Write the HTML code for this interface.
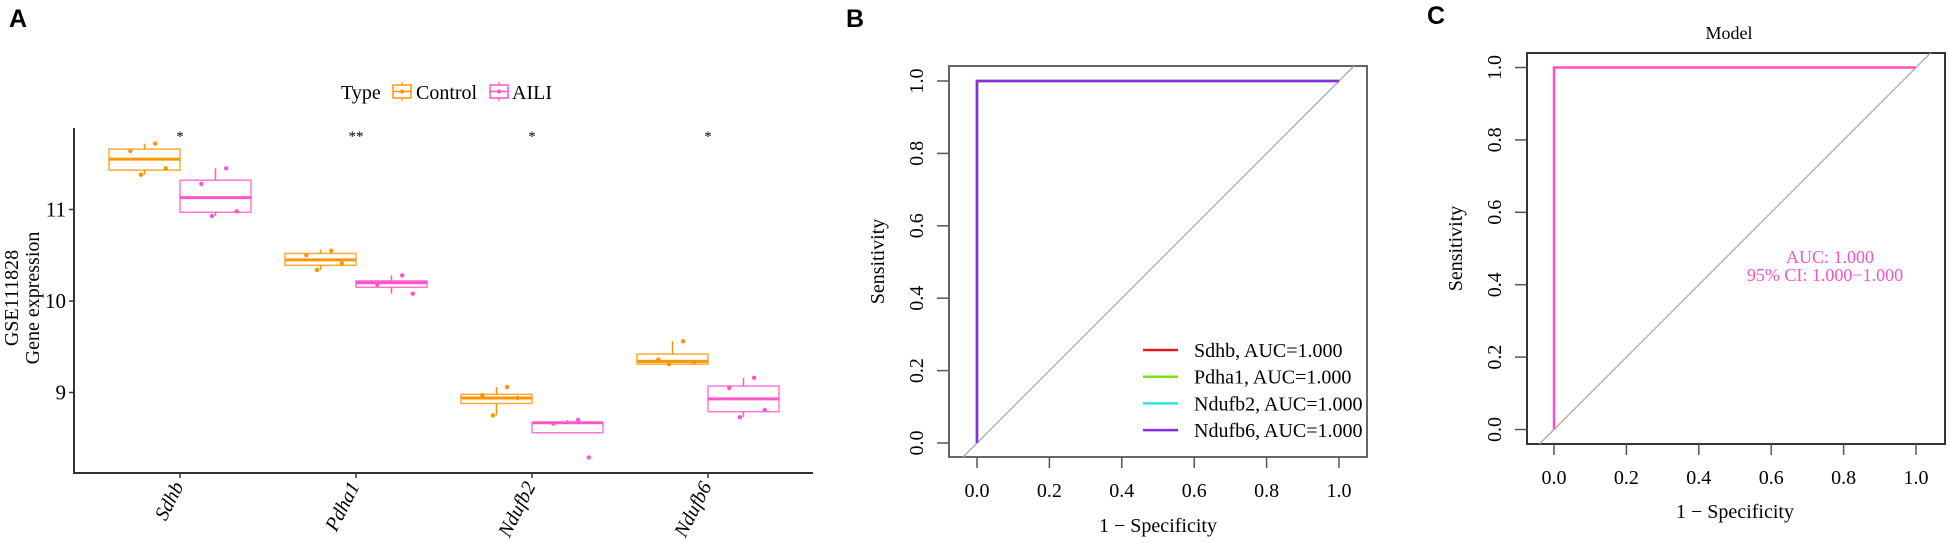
<!DOCTYPE html>
<html><head><meta charset="utf-8"><style>
html,body{margin:0;padding:0;background:#fff;width:1949px;height:543px;overflow:hidden}
svg{display:block}
text{font-family:"Liberation Serif",serif}
.pl{font-family:"Liberation Sans",sans-serif;font-weight:bold;font-size:25px}
</style></head><body>
<svg id="fig" width="1949" height="543" viewBox="0 0 1949 543" xmlns="http://www.w3.org/2000/svg">
<text class="pl" x="9" y="27">A</text>
<text class="pl" x="846" y="27">B</text>
<text class="pl" x="1427" y="24">C</text>
<g id="pa"></g>
<g id="pb"></g>
<g id="pc"></g>
</svg>
<script>
// ---------- Panel A data ----------
const genes = ["Sdhb","Pdha1","Ndufb2","Ndufb6"];
const groups = ["Control","AILI"];
const sigLabels = ["*","**","*","*"];
const yTicksA = [9,10,11];
// [whiskerLow, q1, median, q3, whiskerHigh] per gene
const controlStats = [[11.38,11.43,11.55,11.66,11.72],[10.34,10.39,10.45,10.52,10.56],[8.75,8.88,8.94,8.98,9.06],[9.31,9.31,9.34,9.42,9.56]];
const ailiStats = [[10.93,10.97,11.13,11.32,11.45],[10.08,10.15,10.20,10.22,10.28],[8.56,8.56,8.67,8.67,8.70],[8.73,8.79,8.93,9.07,9.16]];
const controlPoints = [[11.72,11.64,11.45,11.38],[10.55,10.50,10.41,10.34],[9.06,8.97,8.94,8.75],[9.56,9.36,9.33,9.31]];
const ailiPoints = [[11.45,11.28,10.98,10.93],[10.28,10.18,10.08],[8.70,8.66,8.29],[9.16,9.05,8.81,8.73]];

// ---------- Panel B data ----------
const rocGenes = ["Sdhb","Pdha1","Ndufb2","Ndufb6"];
const rocAUC = ["1.000","1.000","1.000","1.000"];
const rocFPR = [0,0,1];
const rocTPR = [0,1,1];
const rocTicks = [0,0.2,0.4,0.6,0.8,1.0];
// ---------- Panel C data ----------
const modelFPR = [0,0,1];
const modelTPR = [0,1,1];
const modelAUC = "1.000";
const modelCI = ["1.000","1.000"];

const NS="http://www.w3.org/2000/svg";
function mk(parent,tag,attrs,txt){const e=document.createElementNS(NS,tag);for(const k in attrs)e.setAttribute(k,attrs[k]);if(txt!==undefined)e.textContent=txt;parent.appendChild(e);return e;}

// ===== Panel A =====
(function(){
const g=document.getElementById('pa');
const yA=v=>301-(v-10)*91.5;
const xCat=i=>180+i*176;
const bw=71;
const cols={Control:"#FF9500",AILI:"#FF55CC"};
let e;
e=mk(g,'line',{x1:74,y1:128,x2:74,y2:474,stroke:"#333","stroke-width":2});

e=mk(g,'line',{x1:73,y1:473,x2:813,y2:473,stroke:"#333","stroke-width":2});

yTicksA.forEach(t=>{
 e=mk(g,'line',{x1:69,y1:yA(t),x2:74,y2:yA(t),stroke:"#333","stroke-width":1.5});
 
 e=mk(g,'text',{x:66,y:yA(t)+7,"text-anchor":"end","font-size":21},String(t));
 
});
e=mk(g,'text',{transform:"translate(18,298) rotate(-90)","text-anchor":"middle","font-size":20},"GSE111828");

e=mk(g,'text',{transform:"translate(39,298) rotate(-90)","text-anchor":"middle","font-size":20},"Gene expression");

const jit=[0.15,-0.2,0.3,-0.05];
genes.forEach((gn,i)=>{
 const cx=xCat(i);
 e=mk(g,'line',{x1:cx,y1:473,x2:cx,y2:478,stroke:"#333","stroke-width":1.5});
 
 e=mk(g,'text',{transform:`translate(${cx+4},${486}) rotate(-63)`,"text-anchor":"end","font-size":20,"font-style":"italic"},gn);
 
 e=mk(g,'text',{x:cx,y:141,"text-anchor":"middle","font-size":15},sigLabels[i]);
 
 [[controlStats,controlPoints,"Control",-1],[ailiStats,ailiPoints,"AILI",0]].forEach(([st,pts,grp,side])=>{
  const s=st[i];const x0=cx+side*bw;const c=cols[grp];const mid=x0+bw/2;
  const bg=mk(g,'g',{});
  
  
  mk(bg,'line',{x1:mid,y1:yA(s[4]),x2:mid,y2:yA(s[0]),stroke:c,"stroke-width":1.5});
  mk(bg,'rect',{x:x0,y:yA(s[3]),width:bw,height:yA(s[1])-yA(s[3]),fill:"#fff",stroke:c,"stroke-width":1.5,"stroke-opacity":0.8});
  mk(bg,'line',{x1:x0,y1:yA(s[2]),x2:x0+bw,y2:yA(s[2]),stroke:c,"stroke-width":3});
  pts[i].forEach((p,k)=>{
   const d=mk(g,'circle',{cx:mid+jit[k%4]*bw,cy:yA(p),r:2.2,fill:c});
   
  });
 });
});
// legend
e=mk(g,'text',{x:341,y:99,"font-size":20},"Type");

[["Control",393,416],["AILI",490,512]].forEach(([lab,kx,tx])=>{
 const lg=mk(g,'g',{});
 
 
 const c=cols[lab];
 mk(lg,'line',{x1:kx+9,y1:82,x2:kx+9,y2:101,stroke:c,"stroke-width":1.2});
 mk(lg,'rect',{x:kx,y:85,width:18,height:13,fill:"#fff",stroke:c,"stroke-width":1.5});
 mk(lg,'line',{x1:kx,y1:91.5,x2:kx+18,y2:91.5,stroke:c,"stroke-width":1.5});
 mk(lg,'circle',{cx:kx+9,cy:91.5,r:2,fill:c});
 mk(lg,'text',{x:tx,y:99,"font-size":20},lab);
});
})();

// ===== ROC helper =====
function rocPanel(g,o){
 const sx=v=>o.x0+v*o.w, sy=v=>o.y0-v*o.w;
 let e;
 e=mk(g,'rect',{x:o.L,y:o.T,width:o.R-o.L,height:o.B-o.T,fill:"none",stroke:o.boxc,"stroke-width":2});
 
 // diagonal clipped to frame
 const lo=Math.max((o.L-o.x0)/o.w,(o.y0-o.B)/o.w), hi=Math.min((o.R-o.x0)/o.w,(o.y0-o.T)/o.w);
 e=mk(g,'line',{x1:sx(lo),y1:sy(lo),x2:sx(hi),y2:sy(hi),stroke:"#aaa","stroke-width":1.3});
 
 rocTicks.forEach(t=>{
  e=mk(g,'line',{x1:sx(t),y1:o.B,x2:sx(t),y2:o.B+11,stroke:"#555","stroke-width":1.5});
  
  e=mk(g,'text',{x:sx(t),y:o.B+40,"text-anchor":"middle","font-size":20},t.toFixed(1));
  
  e=mk(g,'line',{x1:o.L-12,y1:sy(t),x2:o.L,y2:sy(t),stroke:"#555","stroke-width":1.5});
  
  e=mk(g,'text',{transform:`translate(${o.L-26},${sy(t)}) rotate(-90)`,"text-anchor":"middle","font-size":20},t.toFixed(1));
  
 });
 e=mk(g,'text',{x:(sx(0)+sx(1))/2,y:o.xlabY,"text-anchor":"middle","font-size":20},"1 \u2212 Specificity");
 
 e=mk(g,'text',{transform:`translate(${o.ylabX},${(o.T+o.B)/2}) rotate(-90)`,"text-anchor":"middle","font-size":20},"Sensitivity");
 
 return {sx,sy};
}

// ===== Panel B =====
(function(){
const g=document.getElementById('pb');
const s=rocPanel(g,{L:949,R:1367,T:66,B:457,x0:977,y0:443,w:362,boxc:"#666",xlabY:532,ylabX:884});
const cols=["#E41A1C","#7CE01A","#2CE6E6","#8A2BE2"];
rocGenes.forEach((gn,i)=>{
 const pts=rocFPR.map((f,k)=>s.sx(f)+','+s.sy(rocTPR[k])).join(' ');
 const e=mk(g,'polyline',{points:pts,fill:"none",stroke:cols[i],"stroke-width":2.5});
 
 const ly=350+i*26.7;
 const lg=mk(g,'g',{});
 
 
 mk(lg,'line',{x1:1143,y1:ly,x2:1178,y2:ly,stroke:cols[i],"stroke-width":2.5});
 mk(lg,'text',{x:1194,y:ly+7,"font-size":20},gn+", AUC="+rocAUC[i]);
});
})();

// ===== Panel C =====
(function(){
const g=document.getElementById('pc');
const s=rocPanel(g,{L:1527,R:1945,T:53,B:444,x0:1554,y0:429.5,w:362,boxc:"#333",xlabY:518,ylabX:1462});
const pink="#FF4FC6";
const pts=modelFPR.map((f,k)=>s.sx(f)+','+s.sy(modelTPR[k])).join(' ');
let e=mk(g,'polyline',{points:pts,fill:"none",stroke:pink,"stroke-width":2.5});

e=mk(g,'text',{x:1729,y:39,"text-anchor":"middle","font-size":18},"Model");

e=mk(g,'text',{x:1830,y:263,"text-anchor":"middle","font-size":18,fill:pink},"AUC: "+modelAUC);

e=mk(g,'text',{x:1825,y:281,"text-anchor":"middle","font-size":18,fill:pink},"95% CI: "+modelCI[0]+"\u2212"+modelCI[1]);

})();
</script>
</body></html>
